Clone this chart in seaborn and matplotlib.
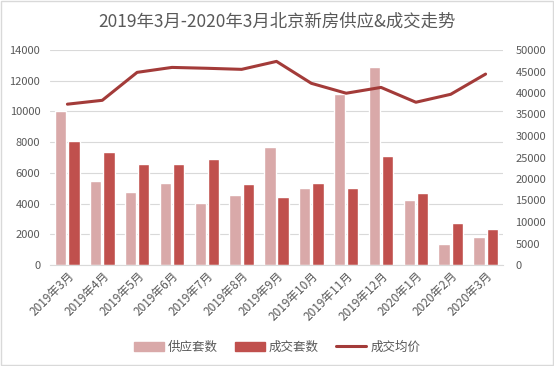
import numpy as np
import pandas as pd
import seaborn as sns
import matplotlib.pyplot as plt
from matplotlib.lines import Line2D
from matplotlib.patches import Patch

MONTHS = ["2019年3月", "2019年4月", "2019年5月", "2019年6月", "2019年7月", "2019年8月",
          "2019年9月", "2019年10月", "2019年11月", "2019年12月", "2020年1月", "2020年2月", "2020年3月"]
SUPPLY = [10030, 5480, 4760, 5350, 4050, 4570, 7690, 5020, 11140, 12900, 4250, 1370, 1830]
DEALS = [8080, 7370, 6590, 6590, 6910, 5290, 4440, 5350, 5020, 7100, 4700, 2750, 2350]
AVG_PRICE = [37400, 38300, 44800, 45950, 45750, 45500, 47350, 42250, 39950, 41300, 37850, 39700, 44400]

SUPPLY_COLOR = "#D9A9A9"
DEAL_COLOR = "#C0504D"
LINE_COLOR = "#A33B39"
TEXT_COLOR = "#595959"

sns.set_style("white")
plt.rcParams["font.family"] = ["Noto Sans CJK SC", "DejaVu Sans"]

df = pd.DataFrame({
    "月份": MONTHS * 2,
    "套数": SUPPLY + DEALS,
    "类型": ["供应套数"] * len(MONTHS) + ["成交套数"] * len(MONTHS),
})

fig = plt.figure(figsize=(5.54, 3.66), dpi=100)
ax = fig.add_axes([50 / 554, 1 - 265 / 366, (503 - 50) / 554, (265 - 50) / 366])

sns.barplot(data=df, x="月份", y="套数", hue="类型", order=MONTHS,
            palette=[SUPPLY_COLOR, DEAL_COLOR], width=0.76, gap=0.15,
            legend=False, ax=ax, saturation=1)

ax.set_ylim(0, 14000)
ax.set_yticks(np.arange(0, 14001, 2000))
ax.yaxis.grid(True, color="#D9D9D9", linewidth=0.8)
ax.set_axisbelow(True)
ax.set_xlim(-0.5, len(MONTHS) - 0.5)
ax.set_xlabel("")
ax.set_ylabel("")
for s in ["top", "right", "left"]:
    ax.spines[s].set_visible(False)
ax.spines["bottom"].set_color("#D9D9D9")
ax.tick_params(axis="both", length=0, colors=TEXT_COLOR, labelsize=8)
ax.tick_params(axis="x", labelsize=8.5, pad=3)
ax.tick_params(axis="y", pad=7)
plt.setp(ax.get_xticklabels(), rotation=45, ha="right", rotation_mode="anchor")

ax2 = ax.twinx()
sns.lineplot(x=np.arange(len(MONTHS)), y=AVG_PRICE, color=LINE_COLOR,
             linewidth=2.2, ax=ax2)
ax2.set_ylim(0, 50000)
ax2.set_yticks(np.arange(0, 50001, 5000))
for s in ["top", "right", "left", "bottom"]:
    ax2.spines[s].set_visible(False)
ax2.tick_params(axis="y", length=0, colors=TEXT_COLOR, labelsize=8, pad=9)

fig.text(0.5, 1 - 22 / 366, "2019年3月-2020年3月北京新房供应&成交走势",
         ha="center", va="center", fontsize=12.5, color=TEXT_COLOR)

handles = [Patch(color=SUPPLY_COLOR), Patch(color=DEAL_COLOR),
           Line2D([0], [0], color=LINE_COLOR, linewidth=2.2)]
fig.legend(handles, ["供应套数", "成交套数", "成交均价"], loc="center",
           bbox_to_anchor=(0.5, 1 - 347 / 366), ncol=3, frameon=False,
           fontsize=9, labelcolor=TEXT_COLOR, handlelength=2.4,
           handleheight=0.7, columnspacing=1.4, handletextpad=0.3)

fig.patches.append(plt.Rectangle((0.002, 0.003), 0.996, 0.994, transform=fig.transFigure,
                                 fill=False, edgecolor="#D9D9D9", linewidth=1))

fig.savefig("out.png", dpi=100)
